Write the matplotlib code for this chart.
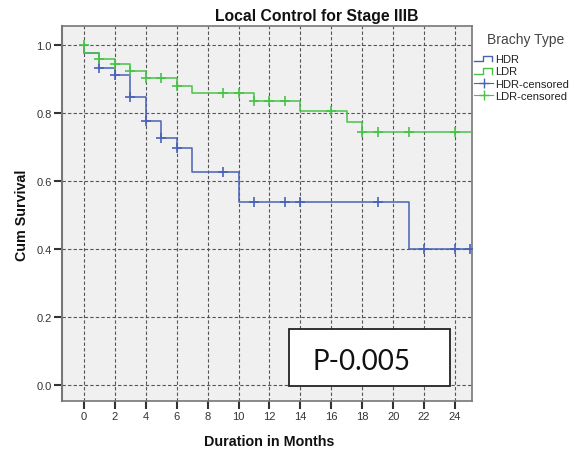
import numpy as np
import matplotlib
matplotlib.use("Agg")
import matplotlib.pyplot as plt
from matplotlib.lines import Line2D
from matplotlib.legend_handler import HandlerBase
from matplotlib.patches import Rectangle

plt.rcParams['font.family'] = ['Liberation Sans', 'DejaVu Sans']

# ---- data ----
hdr_times = [0, 1, 2, 3, 4, 5, 6, 7, 10, 21]
hdr_surv = [0.976, 0.932, 0.912, 0.846, 0.777, 0.726, 0.697, 0.626, 0.537, 0.401]
hdr_censor = [1, 2, 3, 4, 5, 6, 9, 11, 13, 14, 19, 22, 24, 25]

ldr_times = [0, 1, 2, 3, 4, 6, 7, 11, 14, 17, 18]
ldr_surv = [0.976, 0.959, 0.944, 0.923, 0.902, 0.880, 0.860, 0.834, 0.805, 0.775, 0.743]
ldr_censor = [0, 1, 2, 3, 4, 5, 6, 9, 10, 11, 12, 13, 16, 18, 19, 21, 24]

x_ticks = list(range(0, 25, 2))
y_ticks = [0.0, 0.2, 0.4, 0.6, 0.8, 1.0]
y_ticklabels = ['0.0', '0.2', '0.4', '0.6', '0.8', '1.0']

title = 'Local Control for Stage IIIB'
xlabel = 'Duration in Months'
ylabel = 'Cum Survival'
legend_title = 'Brachy Type'
labels = ['HDR', 'LDR', 'HDR-censored', 'LDR-censored']
p_text = 'P-0.005'

blue = '#4862b6'
green = '#48c248'

XMIN, XMAX = -1.42, 25.1
YMIN, YMAX = -0.047, 1.056


def km_path(times, surv, xend):
    xs, ys = [times[0]], [1.0]
    prev = 1.0
    for t, s in zip(times, surv):
        xs += [t, t]
        ys += [prev, s]
        prev = s
    xs.append(xend)
    ys.append(prev)
    return xs, ys


def km_at(times, surv, t):
    if t <= 0:
        return 1.0
    idx = np.searchsorted(times, t, side='right') - 1
    return 1.0 if idx < 0 else surv[idx]


W, H = 581, 452
fig = plt.figure(figsize=(W / 100, H / 100), dpi=100)
ax = fig.add_axes([62 / W, 1 - 402 / H, (472 - 62) / W, (402 - 27) / H])
ax.set_facecolor('#f0f0f0')

ax.set_xlim(XMIN, XMAX)
ax.set_ylim(YMIN, YMAX)
ax.set_xticks(x_ticks)
ax.set_yticks(y_ticks)
ax.set_yticklabels(y_ticklabels)
ax.tick_params(axis='both', labelsize=8, colors='#333333', length=5.5, width=1.5, pad=2)
ax.grid(True, color='#555555', linestyle=(0, (3, 2)), linewidth=0.8)
ax.set_axisbelow(True)
for side, sp in ax.spines.items():
    sp.set_color('#777777')
    sp.set_linewidth(1.5 if side == 'left' else 1.2)

hx, hy = km_path(hdr_times, hdr_surv, XMAX)
lx, ly = km_path(ldr_times, ldr_surv, XMAX)
ax.plot(hx, hy, color=blue, lw=1.1, zorder=3)
ax.plot(lx, ly, color=green, lw=1.1, zorder=4)
ax.plot(hdr_censor, [km_at(hdr_times, hdr_surv, t) for t in hdr_censor],
        linestyle='none', marker='+', ms=7, mew=1.2, color=blue, zorder=5)
ax.plot(ldr_censor, [km_at(ldr_times, ldr_surv, t) for t in ldr_censor],
        linestyle='none', marker='+', ms=7, mew=1.2, color=green, zorder=6)

fig.text(317 / W, 1 - 17 / H, title, fontsize=11.3, fontweight='bold',
         ha='center', va='center', color='#111111')
fig.text(269 / W, 1 - 442 / H, xlabel, fontsize=10.3, fontweight='bold',
         ha='center', va='center', color='#111111')
fig.text(22 / W, 1 - 215 / H, ylabel, fontsize=10.3, fontweight='bold',
         ha='center', va='center', rotation=90, color='#111111')

# p-value box
ax.add_patch(Rectangle((13.26, -0.003), 23.67 - 13.26, 0.167, facecolor='white',
                       edgecolor='#222222', lw=1.3, zorder=8))
ax.text(17.95, 0.07, p_text, fontsize=20, family='Lato',
        ha='center', va='center', zorder=9, color='#111111')


class StepHandler(HandlerBase):
    def __init__(self, color):
        super().__init__()
        self.color = color

    def create_artists(self, legend, orig_handle, xdescent, ydescent, width, height, fontsize, trans):
        x0 = -xdescent
        y0, y1 = -ydescent + height * 0.1, -ydescent + height * 0.8
        xm1 = x0 + width * 0.45
        xm2 = x0 + width * 0.92
        ln = Line2D([x0, xm1, xm1, xm2, xm2], [y0, y0, y1, y1, y0],
                    color=self.color, lw=1.0, transform=trans)
        return [ln]


fig.text(487 / W, 1 - 40 / H, legend_title, fontsize=10, color='#444444',
         ha='left', va='center')
h_hdr = Line2D([], [], color=blue)
h_ldr = Line2D([], [], color=green)
h_hc = Line2D([], [], color=blue, marker='+', ms=7, lw=0.8)
h_lc = Line2D([], [], color=green, marker='+', ms=7, lw=0.8)
leg = fig.legend([h_hdr, h_ldr, h_hc, h_lc], labels,
                 handler_map={h_hdr: StepHandler(blue), h_ldr: StepHandler(green)},
                 loc='upper left', bbox_to_anchor=(474 / W, 1 - 55 / H),
                 frameon=False, fontsize=8, handlelength=1.75, handletextpad=0.15,
                 labelspacing=0.22, borderaxespad=0, borderpad=0)
for t in leg.get_texts():
    t.set_color('#222222')

fig.savefig('out.png', dpi=100)
